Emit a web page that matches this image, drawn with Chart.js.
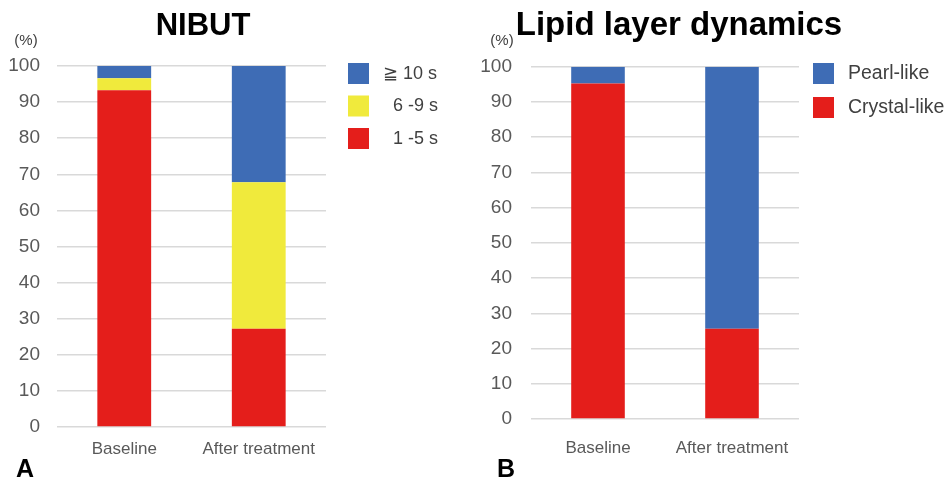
<!DOCTYPE html>
<html>
<head>
<meta charset="utf-8">
<script src="https://cdn.jsdelivr.net/npm/chart.js@4"></script>
<style>
  body { margin: 0; background: #fff; width: 944px; height: 477px; overflow: hidden; position: relative; }
  .panel { position: absolute; top: 0; height: 477px; }
</style>
</head>
<body>
<div class="panel" style="left:0;width:470px"><canvas id="NibutChart" width="470" height="477"></canvas></div>
<div class="panel" style="left:470px;width:474px"><canvas id="LipidChart" width="474" height="477"></canvas></div>
<script>
// Data dari gambar
const categories = ['Baseline', 'After treatment'];
const yTicks = [0, 10, 20, 30, 40, 50, 60, 70, 80, 90, 100];

// A: NIBUT (%)
const nibutLabels = ['  1 -5 s', '  6 -9 s', '≧ 10 s'];
const nibut1to5 = [93.3, 27.2];
const nibut6to9 = [3.3, 40.6];
const nibut10plus = [3.4, 32.2];

// B: Lipid layer dynamics (%)
const lipidLabels = ['Crystal-like', 'Pearl-like'];
const crystalLike = [95.2, 25.6];
const pearlLike = [4.8, 74.4];

const RED = 'rgb(228, 30, 27)';
const YELLOW = 'rgb(240, 234, 60)';
const BLUE = 'rgb(62, 108, 181)';
const FONT = "'Liberation Sans', Arial, sans-serif";

// plugin untuk judul, (%), legend kustom dan huruf panel
const extras = {
  id: 'extras',
  afterDraw(chart, args, opts) {
    const c = chart.ctx;
    c.save();
    // judul
    c.fillStyle = '#000';
    c.font = 'bold ' + opts.titleSize + 'px ' + FONT;
    c.textAlign = 'center';
    c.textBaseline = 'alphabetic';
    c.fillText(opts.title, opts.titleX, 35);
    // (%)
    c.fillStyle = '#404040';
    c.font = '15px ' + FONT;
    c.textBaseline = 'middle';
    c.fillText('(%)', opts.unitX, 41);
    // legend (urutan terbalik)
    const ds = chart.data.datasets;
    c.textAlign = 'left';
    c.font = opts.legendSize + 'px ' + FONT;
    for (let k = 0; k < ds.length; k++) {
      const d = ds[ds.length - 1 - k];
      const y = 63 + k * opts.legendGap;
      c.fillStyle = d.backgroundColor;
      c.fillRect(opts.legendX, y, 21, 21);
      c.fillStyle = '#404040';
      c.fillText(d.label, opts.legendX + 35, y + 11);
    }
    // huruf panel
    c.fillStyle = '#000';
    c.font = 'bold 25px ' + FONT;
    c.textBaseline = 'alphabetic';
    c.fillText(opts.letter, opts.letterX, 477);
    c.restore();
  }
};

function makeConfig(datasets, area, extraOpts) {
  return {
    type: 'bar',
    data: { labels: categories, datasets: datasets },
    options: {
      responsive: false,
      animation: false,
      layout: { padding: { left: 0, top: area.top, right: area.right, bottom: 0 } },
      plugins: {
        legend: { display: false },
        tooltip: { enabled: false },
        extras: extraOpts
      },
      datasets: { bar: { categoryPercentage: 1, barPercentage: 0.4 } },
      scales: {
        x: {
          stacked: true,
          grid: { display: false },
          border: { display: false },
          ticks: { color: '#595959', font: { family: FONT, size: 17 }, padding: area.xPad },
          afterFit: (s) => { s.height = area.xHeight; }
        },
        y: {
          stacked: true,
          min: 0,
          max: 100,
          afterBuildTicks: (s) => { s.ticks = yTicks.map(v => ({ value: v })); },
          grid: { color: '#d9d9d9', lineWidth: 1.5, drawTicks: false },
          border: { display: false },
          ticks: { color: '#595959', font: { family: FONT, size: 19 }, padding: area.tickPad },
          afterFit: (s) => { s.width = area.yWidth; }
        }
      }
    },
    plugins: [extras]
  };
}

new Chart(document.getElementById('NibutChart').getContext('2d'), makeConfig([
  { label: nibutLabels[0], data: nibut1to5, backgroundColor: RED },
  { label: nibutLabels[1], data: nibut6to9, backgroundColor: YELLOW },
  { label: nibutLabels[2], data: nibut10plus, backgroundColor: BLUE }
], { top: 66, right: 144, xHeight: 50, yWidth: 57, tickPad: 17, xPad: 4 },
{ title: 'NIBUT', titleSize: 31, titleX: 203, unitX: 26, legendX: 348, legendGap: 32.5, legendSize: 18, letter: 'A', letterX: 16 }));

new Chart(document.getElementById('LipidChart').getContext('2d'), makeConfig([
  { label: lipidLabels[0], data: crystalLike, backgroundColor: RED },
  { label: lipidLabels[1], data: pearlLike, backgroundColor: BLUE }
], { top: 66.7, right: 145, xHeight: 58, yWidth: 61, tickPad: 19, xPad: 11 },
{ title: 'Lipid layer dynamics', titleSize: 33, titleX: 209, unitX: 32, legendX: 343, legendGap: 34, legendSize: 19.5, letter: 'B', letterX: 27 }));
</script>
</body>
</html>
